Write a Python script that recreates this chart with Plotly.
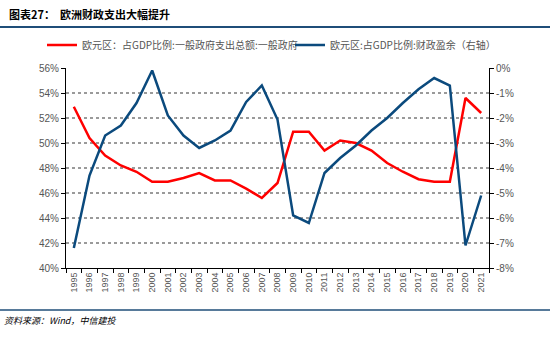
import plotly.graph_objects as go

years = [str(y) for y in range(1995, 2022)]
spending = [52.9, 50.4, 49.0, 48.2, 47.7, 46.9, 46.9, 47.2, 47.6, 47.0, 47.0, 46.35, 45.6,
            46.8, 50.9, 50.9, 49.4, 50.2, 50.0, 49.4, 48.4, 47.7, 47.1, 46.9, 46.9, 53.6, 52.4]
surplus = [-7.2, -4.3, -2.7, -2.3, -1.4, -0.1, -1.9, -2.7, -3.2, -2.9, -2.5, -1.36, -0.7,
           -2.06, -5.9, -6.2, -4.2, -3.6, -3.1, -2.5, -2.0, -1.4, -0.85, -0.4, -0.7, -7.1, -5.1]
left_ticks = [40, 42, 44, 46, 48, 50, 52, 54, 56]
right_ticks = [-8, -7, -6, -5, -4, -3, -2, -1, 0]

name1 = "欧元区：占GDP比例:一般政府支出总额:一般政府"
name2 = "欧元区:占GDP比例:财政盈余（右轴）"
title = "图表27：  欧洲财政支出大幅提升"
source = "资料来源：Wind，中信建投"

W, H = 550, 343
L, R, T, B = 66, 61, 68, 75
PW, PH = W - L - R, H - T - B


def px(x):
    return (x - L) / PW


def py(y):
    return (H - B - y) / PH


fig = go.Figure()
fig.add_trace(go.Scatter(x=years, y=spending, mode="lines", name=name1, legend="legend",
                         line=dict(color="#FF0000", width=2.5), yaxis="y"))
fig.add_trace(go.Scatter(x=years, y=surplus, mode="lines", name=name2, legend="legend2",
                         line=dict(color="#0B4A7D", width=2.5), yaxis="y2"))

font_family = "Noto Sans CJK SC, Liberation Sans, sans-serif"
tick_font = dict(family="Liberation Sans, Arial, sans-serif", size=10, color="#555555")
legend_font = dict(family=font_family, size=10, color="#555555")

fig.update_layout(
    width=W, height=H,
    margin=dict(l=L, r=R, t=T, b=B),
    paper_bgcolor="white", plot_bgcolor="white",
    font=dict(family=font_family, size=10, color="#333333"),
    showlegend=True,
    legend=dict(orientation="h", x=px(42), y=py(45), xanchor="left", yanchor="middle",
                font=legend_font, bgcolor="rgba(0,0,0,0)", itemwidth=30),
    legend2=dict(orientation="h", x=px(290), y=py(45), xanchor="left", yanchor="middle",
                 font=legend_font, bgcolor="rgba(0,0,0,0)", itemwidth=30),
    xaxis=dict(type="category", range=[-0.5, len(years) - 0.5], tickangle=-90,
               tickfont=dict(family="Liberation Sans, Arial, sans-serif", size=9, color="#555555"),
               showline=True, linecolor="#000000", linewidth=1, ticks="outside",
               ticklen=4, tickcolor="#000000", tickson="boundaries", showgrid=False,
               zeroline=False),
    yaxis=dict(range=[40, 56], tickvals=left_ticks, ticktext=[f"{v}%" for v in left_ticks],
               tickfont=tick_font, showline=True, linecolor="#000000", linewidth=1,
               ticks="outside", ticklen=4, tickcolor="#000000",
               showgrid=True, gridcolor="#9A9A9A", griddash="dot", gridwidth=1.5,
               zeroline=False),
    yaxis2=dict(range=[-8, 0], tickvals=right_ticks, ticktext=[f"{v}%" for v in right_ticks],
                tickfont=tick_font, overlaying="y", side="right", showline=True,
                linecolor="#000000", linewidth=1, ticks="outside", ticklen=4,
                tickcolor="#000000", showgrid=False, zeroline=False),
)

# header and footer rules
fig.add_shape(type="line", xref="paper", yref="paper", x0=px(0), x1=px(W),
              y0=py(27), y1=py(27), line=dict(color="#1F4E79", width=2))
fig.add_shape(type="line", xref="paper", yref="paper", x0=px(0), x1=px(W),
              y0=py(310), y1=py(310), line=dict(color="#1F4E79", width=1.5))

fig.add_annotation(text=f"<b>{title}</b>", xref="paper", yref="paper",
                   x=px(7), y=py(14), xanchor="left", yanchor="middle", showarrow=False,
                   font=dict(family=font_family, size=11, color="#000000"))
fig.add_annotation(text=f"<i>{source}</i>", xref="paper", yref="paper",
                   x=px(2), y=py(320), xanchor="left", yanchor="middle", showarrow=False,
                   font=dict(family=font_family, size=9, color="#000000"))

fig.write_html("out.html")
